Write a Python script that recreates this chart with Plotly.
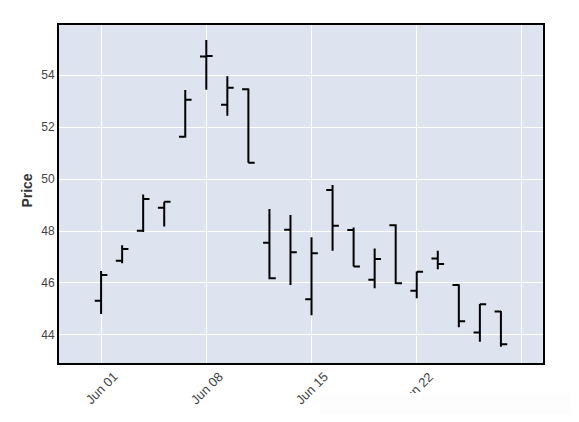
import plotly.graph_objects as go

dates = ["2020-06-01", "2020-06-02", "2020-06-03", "2020-06-04", "2020-06-05",
         "2020-06-08", "2020-06-09", "2020-06-10", "2020-06-11", "2020-06-12",
         "2020-06-15", "2020-06-16", "2020-06-17", "2020-06-18", "2020-06-19",
         "2020-06-22", "2020-06-23", "2020-06-24", "2020-06-25", "2020-06-26"]
open_ = [45.32, 46.86, 48.01, 48.90, 51.63, 54.72, 52.86, 53.46, 47.55, 48.05,
         45.37, 49.58, 48.04, 46.12, 48.22, 45.70, 46.94, 45.92, 44.09, 44.90]
high = [46.46, 47.45, 49.41, 49.13, 53.43, 55.35, 53.96, 53.49, 48.85, 48.62,
        47.76, 49.77, 48.14, 47.33, 48.26, 46.44, 47.24, 45.95, 45.19, 44.92]
low = [44.81, 46.76, 47.96, 48.17, 51.60, 53.44, 52.44, 50.63, 46.14, 45.92,
       44.76, 47.24, 46.63, 45.80, 45.96, 45.41, 46.53, 44.30, 43.74, 43.55]
close = [46.31, 47.31, 49.23, 49.13, 53.05, 54.74, 53.51, 50.63, 46.18, 47.18,
         47.14, 48.20, 46.63, 46.92, 45.99, 46.43, 46.73, 44.53, 45.18, 43.64]

tick_vals = ["2020-06-01", "2020-06-08", "2020-06-15", "2020-06-22", "2020-06-29"]
tick_text = ["Jun 01", "Jun 08", "Jun 15", "Jun 22", ""]

fig = go.Figure(go.Ohlc(
    x=dates, open=open_, high=high, low=low, close=close,
    increasing=dict(line=dict(color="black", width=2)),
    decreasing=dict(line=dict(color="black", width=2)),
    showlegend=False,
))

fig.update_layout(
    template="plotly",
    width=579, height=422,
    margin=dict(l=51, r=44, t=17, b=67),
    font=dict(family="Liberation Sans, Arial, sans-serif", size=12, color="#444"),
    paper_bgcolor="white",
    plot_bgcolor="#DDE3EF",
    showlegend=False,
)
fig.update_xaxes(
    rangeslider_visible=False,
    rangebreaks=[dict(bounds=["sat", "mon"])],
    range=["2020-05-28", "2020-06-30"],
    tickmode="array",
    tickvals=tick_vals,
    showticklabels=False,
    showline=True, linecolor="black", linewidth=2, mirror=True,
    gridcolor="white",
)
fig.update_yaxes(
    range=[42.92, 55.93],
    dtick=2,
    showline=True, linecolor="black", linewidth=2, mirror=True,
    gridcolor="white",
)
for tv, tt in zip(tick_vals, tick_text):
    if tt:
        fig.add_annotation(text=tt, xref="x", yref="paper", x=tv,
                           y=-(388 - 363) / 338, textangle=-45,
                           xanchor="center", yanchor="middle", showarrow=False,
                           font=dict(size=13, color="#444"))
fig.add_annotation(text="<b>Price</b>", xref="paper", yref="paper",
                   x=(27 - 59) / 484, y=0.51, textangle=-90,
                   xanchor="center", yanchor="middle", showarrow=False,
                   font=dict(size=14, color="#333"))
# faint white panel covering part of the lower labels
fig.add_annotation(text=" ", xref="paper", yref="paper",
                   x=(446 - 59) / 484, y=-(403 - 363) / 338,
                   xanchor="center", yanchor="middle", showarrow=False,
                   width=252, height=21, borderpad=0, borderwidth=0,
                   bgcolor="#fdfdfd")

fig.write_html("out.html")
